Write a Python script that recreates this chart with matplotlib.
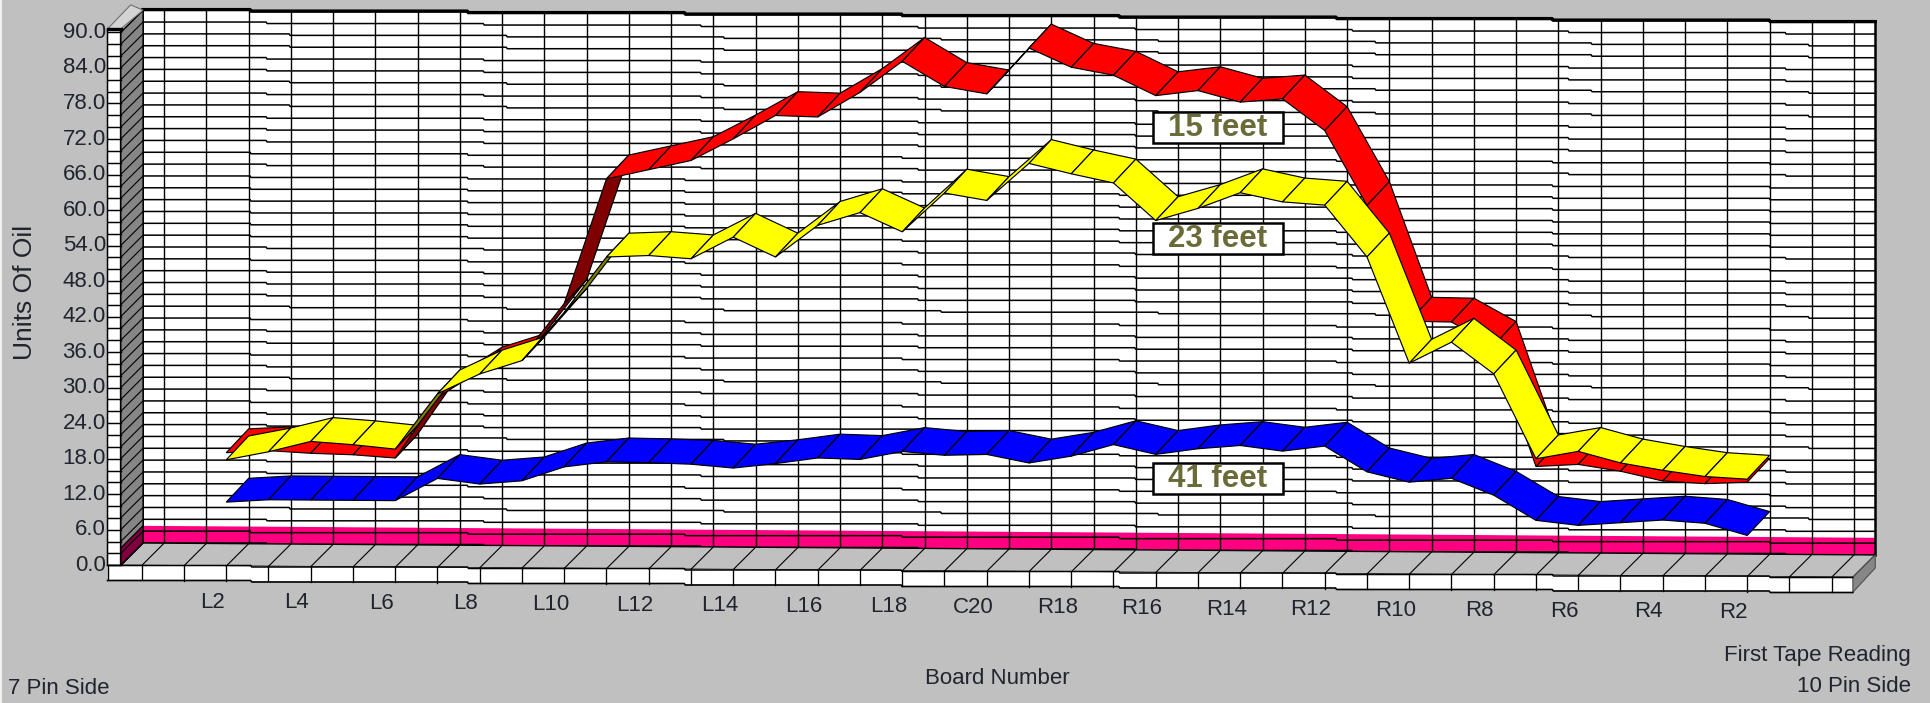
import numpy as np
import matplotlib.pyplot as plt
from matplotlib.patches import Polygon, Rectangle

tick_labels = ["L2", "L4", "L6", "L8", "L10", "L12", "L14", "L16", "L18", "C20",
               "R18", "R16", "R14", "R12", "R10", "R8", "R6", "R4", "R2"]
oil_ticks = [0, 6, 12, 18, 24, 30, 36, 42, 48, 54, 60, 66, 72, 78, 84, 90]

# one value per board, L2 through C20 to R2
feet_15 = [19.4, 19.8, 19.4, 19.2, 18.7, 29.0, 33.5, 35.8, 45.0, 66.1, 67.7, 69.3, 73.0,
           77.0, 76.8, 81.0, 86.3, 82.1, 80.9, 88.7, 85.5, 84.2, 80.8, 81.7, 79.8, 80.4,
           75.1, 62.5, 43.0, 42.9, 39.0, 18.6, 19.0, 17.9, 16.3, 15.9, 16.2]
feet_23 = [18.2, 19.6, 21.4, 20.9, 20.2, 29.6, 33.0, 35.3, 43.5, 52.9, 53.2, 52.7, 56.4,
           53.1, 58.5, 60.7, 57.5, 64.1, 62.9, 69.2, 67.5, 66.0, 59.7, 61.8, 64.5, 63.0,
           62.5, 53.8, 35.9, 39.5, 34.2, 19.9, 21.2, 19.3, 18.1, 17.1, 16.7]
feet_41 = [11.05, 11.5, 11.5, 11.5, 11.5, 15.3, 14.4, 15.0, 17.4, 18.3, 18.2, 18.0, 17.4,
           18.2, 19.2, 19.0, 20.4, 19.8, 20.0, 18.6, 19.8, 21.8, 20.2, 21.2, 21.8, 20.9,
           21.8, 17.5, 15.8, 16.5, 13.7, 9.5, 8.7, 9.2, 9.7, 9.2, 7.2]
base_band = 2.9

W, H = 1931, 703
SLOT = 42.25    # px per board slot
UNIT = 5.92     # px per unit of oil
LEFT = 143      # px, left edge of the back wall
BOTTOM = 543    # px from the top, wall bottom at the left
TILT = 0.0069 * SLOT / UNIT     # whole picture leans, units per slot
STEP = 1.5 / UNIT               # height of one stair in the long lines
STAIR_EVERY = 217               # px between stairs
# where the first stair of each grid line falls, from the top line down
stair_starts = [251, 267, 290, 290, 267, 267, 290, 267, 290, 267, 267, 267, 251, 267, 251, 251,
                251, 251, 251, 251, 267, 251, 267, 267, 267, 290, 251, 267, 267, 251, 267, 290,
                267, 251, 267, 267, 290, 251, 267, 267, 251, 267, 290, 267, 251, 267]

BLACK = "#000000"
GREY = "#c0c0c0"
TEXT = "#20242e"

plt.rcParams["font.family"] = ["Liberation Sans"]

fig = plt.figure(figsize=(W / 100, H / 100), dpi=100, facecolor=GREY)
ax = fig.add_axes([0, 0, 1, 1])
ax.set_xlim(-0.5 - LEFT / SLOT, -0.5 + (W - LEFT) / SLOT)
ax.set_ylim(-(H - BOTTOM) / UNIT, BOTTOM / UNIT)
ax.axis("off")


def lean(k, v):
    return v - TILT * (np.asarray(k, dtype=float) + 0.5)


def stair(k, v, start=251):
    px = LEFT + (np.asarray(k, dtype=float) + 0.5) * SLOT
    return v - (np.floor((px - start) / STAIR_EVERY) + 1) * STEP


def shape(points, face, edge=BLACK, lw=0.8, z=2):
    pts = [(k, lean(k, v)) for k, v in points]
    ax.add_patch(Polygon(pts, closed=True, facecolor=face, edgecolor=edge, linewidth=lw, zorder=z))


def ribbon(values, face, under, z):
    ks = np.arange(2, 2 + len(values))
    for k0, k1, v0, v1 in zip(ks[:-1], ks[1:], values[:-1], values[1:]):
        # steeper than the depth direction: we look at the underside
        color = under if v1 - v0 > 7.7 else face
        shape([(k0 + DX, v0 + DY), (k0, v0), (k1, v1), (k1 + DX, v1 + DY)], color, lw=0.85, z=z)


DX, DY = -0.53, -4.05       # depth of the ribbons
FX, FY = -0.53, -3.8        # depth of the floor
long_x = np.linspace(-0.5, 40.5, 1732)

# back wall
shape([(-0.5, 0), (-0.5, 90), (40.5, 90), (40.5, 0)], "white", edge="none", z=1)
shape([(-0.5, 0), (-0.5, base_band), (40.5, base_band), (40.5, 0)], "#ff0080", edge="none", z=1.1)
for n, v in enumerate(range(90, -2, -2)):
    ax.plot(long_x, stair(long_x, v, stair_starts[n]), color=BLACK, lw=1.1, zorder=1.2)
for k in range(41):
    ax.plot([k, k], [lean(k, 0), lean(k, 90)], color=BLACK, lw=1.0, zorder=1.2)
ax.plot(long_x, stair(long_x, 90) + 0.1, color=BLACK, lw=2.4, zorder=1.3)
ax.plot([40.5, 40.5], [lean(40.5, 0), lean(40.5, 90)], color=BLACK, lw=1.8, zorder=1.3)
ax.plot([-0.5, -0.5], [lean(-0.5, 0), lean(-0.5, 90)], color=BLACK, lw=1.4, zorder=1.3)

# left wall with the slanted grid
shape([(-0.5, 0), (-0.5, 90), (-0.5 + FX, 90 + FY), (-0.5 + FX, FY)], "#868686", lw=0.9, z=1.4)
shape([(-0.5, 0), (-0.5, base_band), (-0.5 + FX, base_band + FY), (-0.5 + FX, FY)], "#80003f", lw=0.9, z=1.5)
for v in range(0, 92, 2):
    ax.plot([-0.5, -0.5 + FX], [lean(-0.5, v), lean(-0.5 + FX, v + FY)], color=BLACK, lw=0.8, zorder=1.6)

# white strip in front of the left wall and its cap
strip_l = -1.34
shape([(strip_l, FY), (strip_l, 90 + FY + 0.4), (-0.5 + FX, 90 + FY + 0.4), (-0.5 + FX, FY)], "white", lw=1.1, z=1.7)
for v in range(0, 92, 2):
    ax.plot([strip_l, -0.5 + FX], [lean(strip_l, v + FY)] * 2, color=BLACK, lw=1.05, zorder=1.8)
ax.plot([strip_l, -0.5 + FX], [lean(strip_l, 90 + FY + 0.6)] * 2, color=BLACK, lw=2.4, zorder=1.9)
shape([(strip_l, 90 + FY + 0.6), (-0.79, 90.9), (-0.5, 90), (-0.5 + FX, 90 + FY + 0.6)], "#d4d4d4", edge="#707070", lw=0.8, z=1.85)

# floor and front edge
strip_h = 15 / UNIT
shape([(-0.5, 0), (40.5, 0), (40.5 + FX, FY), (-0.5 + FX, FY)], GREY, lw=1.0, z=1.3)
front_x = np.linspace(strip_l, 40.5 + FX, 1732)
shape([(strip_l, FY), (40.5 + FX, FY), (40.5 + FX, FY - strip_h), (strip_l, FY - strip_h)], "white", edge="none", z=1.4)
ax.plot(front_x, stair(front_x, FY), color=BLACK, lw=1.1, zorder=1.6)
ax.plot(front_x, stair(front_x, FY - strip_h), color=BLACK, lw=1.2, zorder=1.6)
for k in range(41):
    ax.plot([k, k + FX], [lean(k, 0), lean(k + FX, FY)], color=BLACK, lw=0.8, zorder=1.5)
    ax.plot([k + FX, k + FX], [lean(k + FX, FY), lean(k + FX, FY - strip_h)], color=BLACK, lw=0.95, zorder=1.5)
shape([(40.5, 0), (40.5, -2.2), (40.5 + FX, FY - strip_h), (40.5 + FX, FY)], "#868686", edge="#505050", lw=0.8, z=1.5)
ax.plot([strip_l, strip_l], [lean(strip_l, FY), lean(strip_l, FY - strip_h)], color=BLACK, lw=1.0, zorder=1.6)

# the three tape readings, farthest first
ribbon(feet_15, "#ff0000", "#800000", 3)
ribbon(feet_23, "#ffff00", "#808000", 4)
ribbon(feet_41, "#0000ff", "#000080", 5)

# axis text
for v in oil_ticks:
    ax.text(strip_l - 0.04, lean(strip_l, v + FY), f"{v:.1f}", ha="right", va="center",
            fontsize=16, color=TEXT)
for i, name in enumerate(tick_labels):
    k = 2 + 2 * i - 0.86
    ax.text(k, lean(k, -9.9), name, ha="center", va="center", fontsize=16, color=TEXT)


def label(x, y, s, **kw):
    fig.text(x / W, 1 - y / H, s, color=TEXT, va="center", **kw)


label(25, 292, "Units Of Oil", rotation=90, ha="center", fontsize=19)
label(997, 678, "Board Number", ha="center", fontsize=16)
label(8, 688, "7 Pin Side", ha="left", fontsize=16)
label(1911, 655, "First Tape Reading", ha="right", fontsize=16)
label(1911, 687, "10 Pin Side", ha="right", fontsize=16)

# thin light edge down the left side of the grab
fig.patches.append(Rectangle((0, 0), 2 / W, 1, transform=fig.transFigure, facecolor="#f0f0f0",
                             edgecolor="none", zorder=1, figure=fig))

# series names
for s, top in [("15 feet", 112), ("23 feet", 223), ("41 feet", 463)]:
    fig.patches.append(Rectangle((1153 / W, 1 - (top + 31) / H), 130 / W, 31 / H, transform=fig.transFigure,
                                 facecolor="white", edgecolor=BLACK, linewidth=1.8, zorder=6, figure=fig))
    fig.text(1218 / W, 1 - (top + 16) / H, s, ha="center", va="center", fontsize=22.5, fontweight="bold",
             color="#6b6b3a", zorder=7)

fig.savefig("out.png", dpi=100, facecolor=fig.get_facecolor())
